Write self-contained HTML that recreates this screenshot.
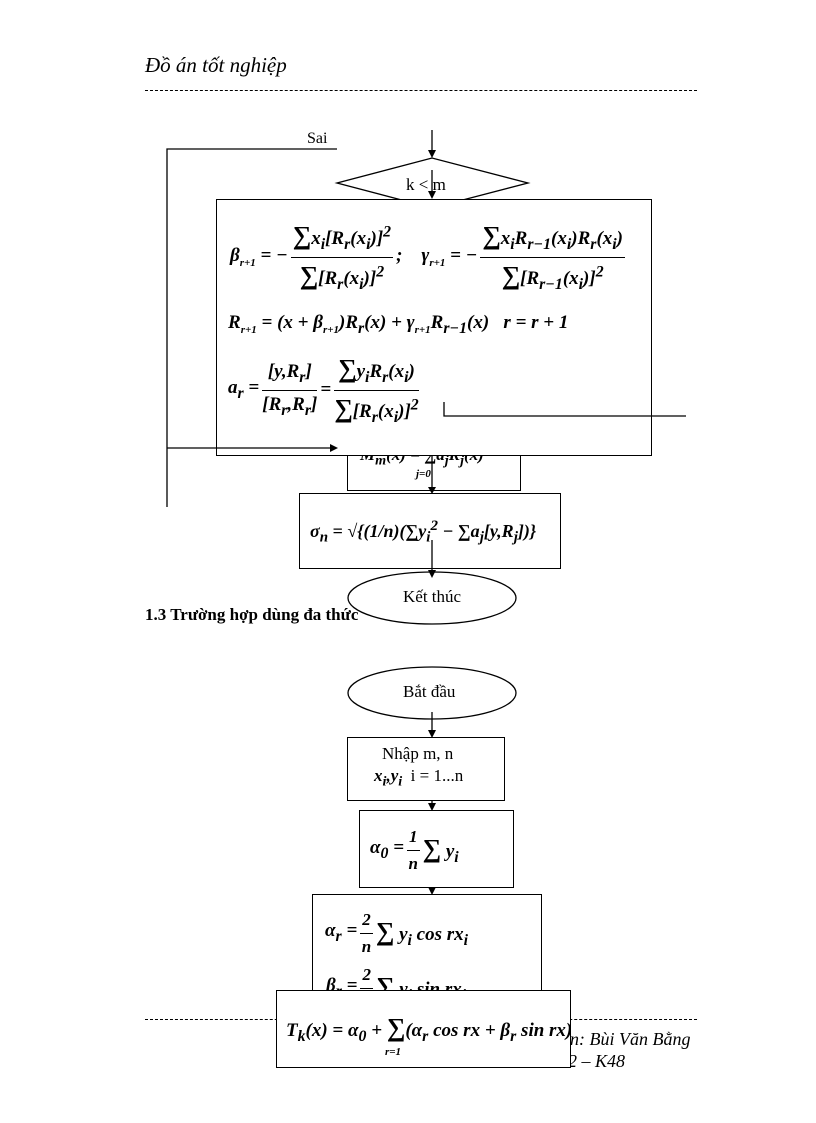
<!DOCTYPE html>
<html><head><meta charset="utf-8"><style>
body{margin:0;width:816px;height:1123px;background:#fff;position:relative;overflow:hidden;font-family:"Liberation Serif",serif;color:#000}
.a{position:absolute;white-space:nowrap}
.box{position:absolute;border:1.5px solid #000;background:#fff;box-sizing:border-box}
.m{font-family:"Liberation Serif",serif;font-weight:bold;font-style:italic;font-size:19px}
.row{display:flex;align-items:center}
.f{display:inline-flex;flex-direction:column;text-align:center;margin:0 3px}
.f .n{border-bottom:1.5px solid #000;padding:0 2px 3px}
.f .d{padding-top:3px}
.s{font-size:26px;font-style:normal}
</style></head><body>
<div class="a" style="left:145px;top:53px;font-size:21px;font-style:italic">Đồ án tốt nghiệp</div>
<div class="a" style="left:145px;top:90px;width:552px;border-top:1px dashed #000"></div>
<div class="a" style="left:307px;top:130px;font-size:16px">Sai</div>

<svg class="a" style="left:0;top:0" width="816" height="1123">
<g stroke="#000" stroke-width="1.3" fill="none">
<polyline points="337,149 167,149 167,507"/>
<line x1="432" y1="130" x2="432" y2="156"/>
<polygon points="337,183 432,158 528,183 432,208" fill="#fff"/>
<line x1="432" y1="170" x2="432" y2="197"/>
</g>
<g fill="#000"><polygon points="428,150 436,150 432,158"/><polygon points="428,191 436,191 432,199"/></g>
</svg>
<div class="a" style="left:406px;top:175px;font-size:17px">k &lt; m</div>

<div class="box" style="left:347px;top:430px;width:174px;height:61px"></div>
<div class="a m" style="left:360px;top:445px;font-size:17px">M<sub>m</sub>(x) = ∑a<sub>j</sub>R<sub>j</sub>(x)</div>
<div class="a m" style="left:416px;top:468px;font-size:11px">j=0</div>

<div class="box" style="left:216px;top:199px;width:436px;height:257px"></div>
<div class="a m row" style="left:230px;top:212px;height:90px">
<span>β<sub style="font-size:11px">r+1</sub> = −</span>
<span class="f"><span class="n"><span class="s">∑</span>x<sub>i</sub>[R<sub>r</sub>(x<sub>i</sub>)]<sup>2</sup></span><span class="d"><span class="s">∑</span>[R<sub>r</sub>(x<sub>i</sub>)]<sup>2</sup></span></span>
<span>;&nbsp;&nbsp;&nbsp; γ<sub style="font-size:11px">r+1</sub> = −</span>
<span class="f"><span class="n"><span class="s">∑</span>x<sub>i</sub>R<sub>r−1</sub>(x<sub>i</sub>)R<sub>r</sub>(x<sub>i</sub>)</span><span class="d"><span class="s">∑</span>[R<sub>r−1</sub>(x<sub>i</sub>)]<sup>2</sup></span></span>
</div>
<div class="a m" style="left:228px;top:312px">R<sub style="font-size:11px">r+1</sub> = (x + β<sub style="font-size:11px">r+1</sub>)R<sub>r</sub>(x) + γ<sub style="font-size:11px">r+1</sub>R<sub>r−1</sub>(x) &nbsp; r = r + 1</div>
<div class="a m row" style="left:228px;top:345px;height:90px"><span>a<sub>r</sub> =</span><span class="f"><span class="n">[y,R<sub>r</sub>]</span><span class="d">[R<sub>r</sub>,R<sub>r</sub>]</span></span><span>=</span><span class="f"><span class="n"><span class="s">∑</span>y<sub>i</sub>R<sub>r</sub>(x<sub>i</sub>)</span><span class="d"><span class="s">∑</span>[R<sub>r</sub>(x<sub>i</sub>)]<sup>2</sup></span></span></div>

<div class="box" style="left:299px;top:493px;width:262px;height:76px"></div>
<div class="a m" style="left:310px;top:518px;font-size:18px">σ<sub>n</sub> = √{(1/n)(∑y<sub>i</sub><sup>2</sup> − ∑a<sub>j</sub>[y,R<sub>j</sub>])}</div>

<svg class="a" style="left:0;top:0" width="816" height="1123">
<g stroke="#000" stroke-width="1.3" fill="none">
<polyline points="444,402 444,416 686,416"/>
<line x1="167" y1="448" x2="330" y2="448"/>
<line x1="432" y1="456" x2="432" y2="491"/>
<line x1="432" y1="540" x2="432" y2="575"/>
<ellipse cx="432" cy="598" rx="84" ry="26" fill="#fff"/>
<ellipse cx="432" cy="693" rx="84" ry="26" fill="#fff"/>
<line x1="432" y1="712" x2="432" y2="735"/>
<line x1="432" y1="790" x2="432" y2="808"/>
<line x1="432" y1="880" x2="432" y2="892"/>
</g>
<g fill="#000"><polygon points="330,444 338,448 330,452"/><polygon points="428,487 436,487 432,494"/><polygon points="428,570 436,570 432,578"/><polygon points="428,730 436,730 432,738"/><polygon points="428,803 436,803 432,811"/><polygon points="428,887 436,887 432,895"/></g>
</svg>
<div class="a" style="left:403px;top:587px;font-size:17px">Kết thúc</div>
<div class="a" style="left:145px;top:605px;font-size:17px;font-weight:bold">1.3 Trường hợp dùng đa thức</div>
<div class="a" style="left:403px;top:682px;font-size:17px">Bắt đầu</div>

<div class="box" style="left:347px;top:737px;width:158px;height:64px"></div>
<div class="a" style="left:382px;top:744px;font-size:17px">Nhập m, n</div>
<div class="a" style="left:374px;top:766px;font-size:17px"><b><i>x<sub>i</sub>,y<sub>i</sub></i></b>&nbsp; i = 1...n</div>

<div class="box" style="left:359px;top:810px;width:155px;height:78px"></div>
<div class="a m row" style="left:370px;top:822px;height:56px"><span>α<sub>0</sub> =</span><span class="f" style="font-size:17px"><span class="n">1</span><span class="d">n</span></span><span><span class="s">∑</span> y<sub>i</sub></span></div>

<div class="box" style="left:312px;top:894px;width:230px;height:110px"></div>
<div class="a m row" style="left:325px;top:905px;height:56px"><span>α<sub>r</sub> =</span><span class="f" style="font-size:17px"><span class="n">2</span><span class="d">n</span></span><span><span class="s">∑</span> y<sub>i</sub> cos rx<sub>i</sub></span></div>
<div class="a m row" style="left:326px;top:960px;height:56px"><span>β<sub>r</sub> =</span><span class="f" style="font-size:17px"><span class="n">2</span><span class="d">n</span></span><span><span class="s">∑</span> y<sub>i</sub> sin rx<sub>i</sub></span></div>

<div class="a" style="left:145px;top:1019px;width:552px;border-top:1px dashed #000"></div>
<div class="a" style="left:570px;top:1029px;font-size:18px;font-style:italic">n: Bùi Văn Bằng</div>
<div class="a" style="left:568px;top:1051px;font-size:18px;font-style:italic">2 – K48</div>
<div class="box" style="left:276px;top:990px;width:295px;height:78px"></div>
<div class="a m" style="left:286px;top:1013px;font-size:19px">T<sub>k</sub>(x) = α<sub>0</sub> + <span class="s">∑</span>(α<sub>r</sub> cos rx + β<sub>r</sub> sin rx)</div>
<div class="a m" style="left:385px;top:1046px;font-size:11px">r=1</div>
</body></html>
